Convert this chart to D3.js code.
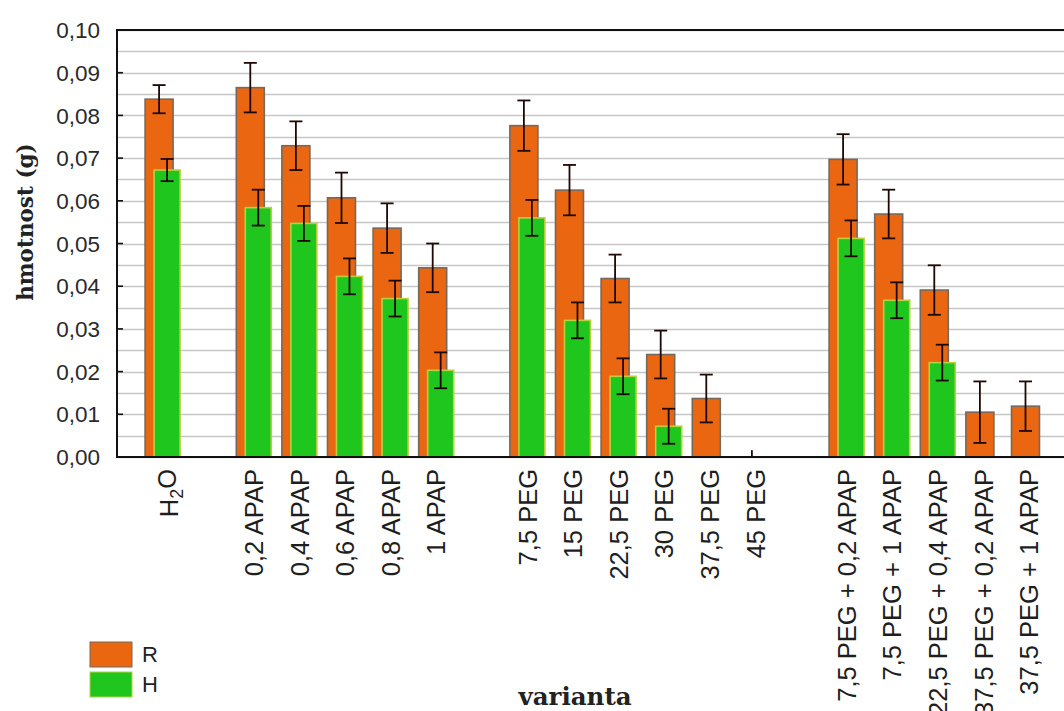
<!DOCTYPE html>
<html>
<head>
<meta charset="utf-8">
<script src="https://cdn.jsdelivr.net/npm/d3@7/dist/d3.min.js"></script>
<style>
  html, body { margin: 0; padding: 0; background: #fff; }
  svg { display: block; }
</style>
</head>
<body>
<svg id="chart" width="1064" height="711"></svg>
<script>
// Treatment variants, in drawing order; group ids separate the blocks of bars
const categories = [
  "H2O",
  "0,2 APAP", "0,4 APAP", "0,6 APAP", "0,8 APAP", "1 APAP",
  "7,5 PEG", "15 PEG", "22,5 PEG", "30 PEG", "37,5 PEG", "45 PEG",
  "7,5 PEG + 0,2 APAP", "7,5 PEG + 1 APAP", "22,5 PEG + 0,4 APAP",
  "37,5 PEG + 0,2 APAP", "37,5 PEG + 1 APAP"
];
const groups = [0, 1, 1, 1, 1, 1, 2, 2, 2, 2, 2, 2, 3, 3, 3, 3, 3];

// Mean mass (g) and its error for R and H
const valuesR = [0.0838, 0.0865, 0.0729, 0.0607, 0.0536, 0.0443,
                 0.0776, 0.0625, 0.0418, 0.0240, 0.0137, 0.0,
                 0.0697, 0.0569, 0.0391, 0.0105, 0.0119];
const errorsR = [0.0033, 0.0058, 0.0057, 0.0059, 0.0058, 0.0057,
                 0.0059, 0.0059, 0.0056, 0.0056, 0.0056, 0.0016,
                 0.0059, 0.0057, 0.0058, 0.0072, 0.0058];
const valuesH = [0.0672, 0.0584, 0.0547, 0.0423, 0.0371, 0.0203,
                 0.0560, 0.0320, 0.0189, 0.0072, 0.0, 0.0,
                 0.0512, 0.0367, 0.0221, 0.0, 0.0];
const errorsH = [0.0026, 0.0042, 0.0041, 0.0042, 0.0042, 0.0042,
                 0.0042, 0.0042, 0.0042, 0.0041, 0, 0,
                 0.0042, 0.0042, 0.0042, 0, 0];

const yTicks = [0, 0.01, 0.02, 0.03, 0.04, 0.05, 0.06, 0.07, 0.08, 0.09, 0.10];
const yGrid = d3.range(0, 0.1001, 0.005);
const seriesNames = ["R", "H"];
const seriesColors = { R: "#ea6610", H: "#1ec61e" };
const seriesStroke = { R: "#76695c", H: "#b9cf3c" };

// Build band slots, leaving one empty slot between groups
const slots = [];
categories.forEach((c, i) => {
  if (i > 0 && groups[i] !== groups[i - 1]) slots.push("gap" + groups[i]);
  slots.push(c);
});

const svg = d3.select("#chart");
const W = 1064, H = 711;
const plotLeft = 117, plotTop = 30, plotBottom = 457;

svg.append("rect").attr("width", W).attr("height", H).attr("fill", "#fff");

const x = d3.scaleBand().domain(slots)
  .range([plotLeft, plotLeft + 45.6 * (slots.length + 1)])
  .paddingInner(0).paddingOuter(0.5);
const y = d3.scaleLinear().domain([0, 0.10]).range([plotBottom, plotTop]);

const loc = d3.formatLocale({ decimal: ",", thousands: " ", grouping: [3], currency: ["", ""] });
const fmt = loc.format(".2f");

// Horizontal grid
svg.append("g").selectAll("line").data(yGrid).join("line")
  .attr("x1", plotLeft).attr("x2", W)
  .attr("y1", d => Math.round(y(d)) + 0.5).attr("y2", d => Math.round(y(d)) + 0.5)
  .attr("stroke", "#c6c6c6").attr("stroke-width", 1.6);

// Bars
const data = categories.map((c, i) => ({
  c, R: valuesR[i], eR: errorsR[i], H: valuesH[i], eH: errorsH[i]
}));
const bw = x.bandwidth();
const offR = bw * 0.116, widR = bw * 0.614;
const offH = bw * 0.313, widH = bw * 0.57;

const bars = svg.append("g");
data.forEach(d => {
  if (d.R > 0) {
    bars.append("rect")
      .attr("x", x(d.c) + offR).attr("width", widR)
      .attr("y", y(d.R)).attr("height", y(0) - y(d.R))
      .attr("fill", seriesColors.R).attr("stroke", seriesStroke.R).attr("stroke-width", 1.6);
  }
  if (d.H > 0) {
    bars.append("rect")
      .attr("x", x(d.c) + offH).attr("width", widH)
      .attr("y", y(d.H)).attr("height", y(0) - y(d.H))
      .attr("fill", seriesColors.H).attr("stroke", seriesStroke.H).attr("stroke-width", 1.6);
  }
});

// Error bars
const cap = 6.5;
const errG = svg.append("g").attr("stroke", "#1e0806").attr("stroke-width", 1.8);
function errorBar(cx, v, e) {
  if (e <= 0) return;
  const y1 = y(Math.max(0, v - e)), y2 = y(v + e);
  errG.append("line").attr("x1", cx).attr("x2", cx).attr("y1", y1).attr("y2", y2);
  if (v > 0) {
    errG.append("line").attr("x1", cx - cap).attr("x2", cx + cap).attr("y1", y2).attr("y2", y2);
    errG.append("line").attr("x1", cx - cap).attr("x2", cx + cap).attr("y1", y1).attr("y2", y1);
  }
}
data.forEach(d => {
  errorBar(x(d.c) + offR + widR / 2, d.R, d.eR);
  errorBar(x(d.c) + offH + widH / 2, d.H, d.eH);
});

// Frame: left axis, top border, baseline
svg.append("line").attr("x1", plotLeft).attr("x2", W).attr("y1", plotTop).attr("y2", plotTop)
  .attr("stroke", "#111").attr("stroke-width", 2);
svg.append("line").attr("x1", plotLeft).attr("x2", W).attr("y1", plotBottom).attr("y2", plotBottom)
  .attr("stroke", "#111").attr("stroke-width", 2);
svg.append("line").attr("x1", plotLeft).attr("x2", plotLeft).attr("y1", plotTop - 1).attr("y2", plotBottom + 1)
  .attr("stroke", "#111").attr("stroke-width", 2);

// Y ticks (inward) and labels
const yt = svg.append("g");
yt.selectAll("line").data(yTicks).join("line")
  .attr("x1", plotLeft).attr("x2", plotLeft + 6)
  .attr("y1", d => y(d)).attr("y2", d => y(d))
  .attr("stroke", "#111").attr("stroke-width", 1.6);
yt.selectAll("text").data(yTicks).join("text")
  .attr("x", plotLeft - 17).attr("y", d => y(d)).attr("dy", "0.36em")
  .attr("text-anchor", "end")
  .attr("font-family", "Liberation Sans, Arial, sans-serif").attr("font-size", 22.5)
  .attr("fill", "#2a2a2a")
  .text(d => fmt(d));

// Category labels, rotated
const xl = svg.append("g")
  .attr("font-family", "Liberation Sans, Arial, sans-serif").attr("font-size", 25.5)
  .attr("fill", "#1e1e1e");
data.forEach(d => {
  const cx = x(d.c) + bw / 2;
  const t = xl.append("text")
    .attr("transform", `translate(${cx},469) rotate(-90)`)
    .attr("text-anchor", "end")
    .attr("dy", d.c === "H2O" ? "0.6em" : "0.36em");
  if (d.c === "H2O") {
    t.append("tspan").text("H");
    t.append("tspan").attr("dy", "0.28em").attr("font-size", 18).text("2");
    t.append("tspan").attr("dy", "-0.28em").text("O");
  } else {
    t.text(d.c);
  }
});

// Axis titles
svg.append("text")
  .attr("transform", "translate(33,222) rotate(-90)")
  .attr("text-anchor", "middle")
  .attr("font-family", "DejaVu Serif, serif").attr("font-weight", "bold").attr("font-size", 21.5)
  .attr("fill", "#222")
  .text("hmotnost (g)");
svg.append("text")
  .attr("x", 575).attr("y", 705)
  .attr("text-anchor", "middle")
  .attr("font-family", "DejaVu Serif, serif").attr("font-weight", "bold").attr("font-size", 24.5)
  .attr("fill", "#222")
  .text("varianta");

// Legend
const lg = svg.append("g").attr("transform", "translate(90,642)");
seriesNames.forEach((s, i) => {
  lg.append("rect").attr("x", 0).attr("y", i * 30).attr("width", 42).attr("height", 25)
    .attr("fill", seriesColors[s]).attr("stroke", seriesStroke[s]).attr("stroke-width", 1);
  lg.append("text").attr("x", 52).attr("y", i * 30 + 12.5).attr("dy", "0.36em")
    .attr("font-family", "Liberation Sans, Arial, sans-serif").attr("font-size", 22)
    .attr("fill", "#222").text(s);
});
</script>
</body>
</html>
